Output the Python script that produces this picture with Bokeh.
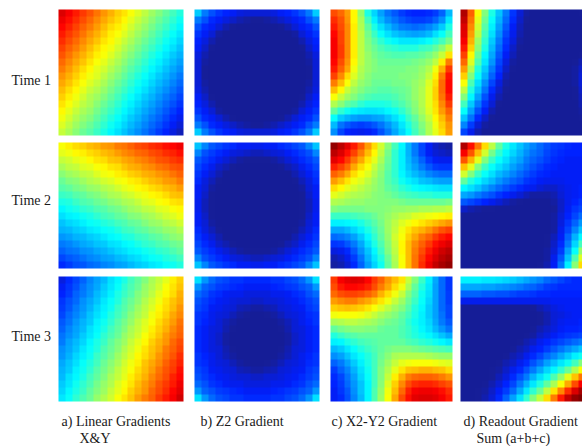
import numpy as np
from bokeh.plotting import figure
from bokeh.models import Range1d, LinearColorMapper
from bokeh.core.properties import value
from bokeh.embed import file_html
from bokeh.resources import INLINE

# Values on an 18x18 grid, top row first (0 = navy, 100 = dark red).
a1 = [[91,88,85,82,79,76,73,70,67,65,62,59,56,53,50,47,44,41],[89,86,83,80,77,74,71,68,66,63,60,57,54,51,48,45,42,39],[87,84,81,78,75,72,69,66,64,61,58,55,52,49,46,43,40,37],[85,82,79,76,73,70,67,64,62,59,56,53,50,47,44,41,38,35],[83,80,77,74,71,68,65,63,60,57,54,51,48,45,42,39,36,33],[81,78,75,72,69,66,63,61,58,55,52,49,46,43,40,37,34,31],[79,76,73,70,67,64,62,59,56,53,50,47,44,41,38,35,32,29],[77,74,71,68,65,62,60,57,54,51,48,45,42,39,36,33,30,27],[75,72,69,66,63,60,58,55,52,49,46,43,40,37,34,31,28,25],[73,70,67,64,61,59,56,53,50,47,44,41,38,35,32,29,26,23],[71,68,65,62,59,57,54,51,48,45,42,39,36,33,30,27,24,21],[69,66,63,60,57,55,52,49,46,43,40,37,34,31,28,25,22,19],[67,64,61,58,55,53,50,47,44,41,38,35,32,29,26,23,20,17],[65,62,59,56,54,51,48,45,42,39,36,33,30,27,24,21,18,15],[63,60,57,54,52,49,46,43,40,37,34,31,28,25,22,19,16,13],[61,58,55,52,50,47,44,41,38,35,32,29,26,23,20,17,14,11],[59,56,53,50,48,45,42,39,36,33,30,27,24,21,18,15,12,9],[57,54,51,48,46,43,40,37,34,31,28,25,22,19,16,13,10,7]]
a2 = [[62,64,66,67,69,70,72,73,75,76,78,80,81,83,84,86,87,89],[60,61,63,64,66,67,69,70,72,74,75,77,78,80,81,83,84,86],[57,58,60,61,63,65,66,68,69,71,72,74,75,77,79,80,82,83],[54,56,57,59,60,62,63,65,66,68,70,71,73,74,76,77,79,80],[51,53,54,56,57,59,61,62,64,65,67,68,70,71,73,74,76,78],[48,50,51,53,55,56,58,59,61,62,64,65,67,69,70,72,73,75],[46,47,49,50,52,53,55,56,58,60,61,63,64,66,67,69,70,72],[43,44,46,47,49,50,52,54,55,57,58,60,61,63,64,66,68,69],[40,41,43,45,46,48,49,51,52,54,55,57,59,60,62,63,65,66],[37,39,40,42,43,45,46,48,49,51,53,54,56,57,59,60,62,63],[34,36,37,39,40,42,44,45,47,48,50,51,53,54,56,58,59,61],[31,33,34,36,38,39,41,42,44,45,47,48,50,52,53,55,56,58],[29,30,32,33,35,36,38,39,41,43,44,46,47,49,50,52,53,55],[26,27,29,30,32,33,35,37,38,40,41,43,44,46,47,49,51,52],[23,24,26,28,29,31,32,34,35,37,38,40,42,43,45,46,48,49],[20,22,23,25,26,28,29,31,33,34,36,37,39,40,42,43,45,47],[17,19,20,22,24,25,27,28,30,31,33,34,36,38,39,41,42,44],[14,16,18,19,21,22,24,25,27,28,30,32,33,35,36,38,39,41]]
a3 = [[10,14,17,20,24,27,30,34,37,40,44,47,50,54,57,60,64,67],[12,15,18,22,25,28,32,35,38,42,45,48,52,55,58,62,65,68],[13,16,20,23,26,30,33,36,40,43,46,50,53,56,60,63,66,70],[15,18,21,25,28,31,35,38,41,45,48,51,55,58,61,65,68,71],[16,19,23,26,29,33,36,39,43,46,49,53,56,59,63,66,69,73],[17,21,24,27,31,34,37,41,44,47,51,54,57,61,64,67,71,74],[19,22,26,29,32,36,39,42,46,49,52,56,59,62,66,69,72,76],[20,24,27,30,34,37,40,44,47,50,54,57,60,64,67,70,74,77],[22,25,28,32,35,38,42,45,48,52,55,58,62,65,68,72,75,78],[23,27,30,33,37,40,43,47,50,53,57,60,63,67,70,73,77,80],[25,28,31,35,38,41,45,48,51,55,58,61,65,68,71,75,78,81],[26,29,33,36,39,43,46,49,53,56,59,63,66,69,73,76,79,83],[28,31,34,38,41,44,48,51,54,58,61,64,68,71,74,78,81,84],[29,32,36,39,42,46,49,52,56,59,62,66,69,72,76,79,82,86],[30,34,37,40,44,47,50,54,57,60,64,67,70,74,77,80,84,87],[32,35,39,42,45,49,52,55,59,62,65,69,72,75,79,82,85,89],[33,37,40,43,47,50,53,57,60,63,67,70,73,77,80,83,87,90],[35,38,42,45,48,52,55,58,62,65,68,72,75,78,82,85,88,92]]
b1 = [[32,23,18,15,13,12,10,9,9,9,9,10,12,13,15,18,23,32],[23,18,14,12,10,8,6,5,4,4,5,6,8,10,12,14,18,23],[18,14,12,9,6,4,3,3,3,3,3,3,4,6,9,12,14,18],[15,12,9,5,3,3,3,3,3,3,3,3,3,3,5,9,12,15],[13,10,6,3,3,3,3,3,3,3,3,3,3,3,3,6,10,13],[12,8,4,3,3,3,3,3,3,3,3,3,3,3,3,4,8,12],[10,6,3,3,3,3,3,3,3,3,3,3,3,3,3,3,6,10],[9,5,3,3,3,3,3,3,3,3,3,3,3,3,3,3,5,9],[9,4,3,3,3,3,3,3,3,3,3,3,3,3,3,3,4,9],[9,4,3,3,3,3,3,3,3,3,3,3,3,3,3,3,4,9],[9,5,3,3,3,3,3,3,3,3,3,3,3,3,3,3,5,9],[10,6,3,3,3,3,3,3,3,3,3,3,3,3,3,3,6,10],[12,8,4,3,3,3,3,3,3,3,3,3,3,3,3,4,8,12],[13,10,6,3,3,3,3,3,3,3,3,3,3,3,3,6,10,13],[15,12,9,5,3,3,3,3,3,3,3,3,3,3,5,9,12,15],[18,14,12,9,6,4,3,3,3,3,3,3,4,6,9,12,14,18],[23,18,14,12,10,8,6,5,4,4,5,6,8,10,12,14,18,23],[32,23,18,15,13,12,10,9,9,9,9,10,12,13,15,18,23,32]]
b2 = [[31,24,19,17,15,14,12,12,11,11,12,12,14,15,17,19,24,31],[24,18,16,14,12,10,9,8,7,7,8,9,10,12,14,16,18,24],[19,16,14,11,9,7,5,4,4,4,4,5,7,9,11,14,16,19],[17,14,11,8,6,4,3,3,3,3,3,3,4,6,8,11,14,17],[15,12,9,6,3,3,3,3,3,3,3,3,3,3,6,9,12,15],[14,10,7,4,3,3,3,3,3,3,3,3,3,3,4,7,10,14],[12,9,5,3,3,3,3,3,3,3,3,3,3,3,3,5,9,12],[12,8,4,3,3,3,3,3,3,3,3,3,3,3,3,4,8,12],[11,7,4,3,3,3,3,3,3,3,3,3,3,3,3,4,7,11],[11,7,4,3,3,3,3,3,3,3,3,3,3,3,3,4,7,11],[12,8,4,3,3,3,3,3,3,3,3,3,3,3,3,4,8,12],[12,9,5,3,3,3,3,3,3,3,3,3,3,3,3,5,9,12],[14,10,7,4,3,3,3,3,3,3,3,3,3,3,4,7,10,14],[15,12,9,6,3,3,3,3,3,3,3,3,3,3,6,9,12,15],[17,14,11,8,6,4,3,3,3,3,3,3,4,6,8,11,14,17],[19,16,14,11,9,7,5,4,4,4,4,5,7,9,11,14,16,19],[24,18,16,14,12,10,9,8,7,7,8,9,10,12,14,16,18,24],[31,24,19,17,15,14,12,12,11,11,12,12,14,15,17,19,24,31]]
b3 = [[34,26,21,18,17,15,15,14,14,14,14,15,15,17,18,21,26,34],[26,20,18,16,15,14,13,12,12,12,12,13,14,15,16,18,20,26],[21,18,15,14,12,11,11,10,10,10,10,11,11,12,14,15,18,21],[18,16,14,12,11,10,9,9,8,8,9,9,10,11,12,14,16,18],[17,15,12,11,10,9,7,6,5,5,6,7,9,10,11,12,15,17],[15,14,11,10,9,7,5,4,3,3,4,5,7,9,10,11,14,15],[15,13,11,9,7,5,3,3,3,3,3,3,5,7,9,11,13,15],[14,12,10,9,6,4,3,3,3,3,3,3,4,6,9,10,12,14],[14,12,10,8,5,3,3,3,3,3,3,3,3,5,8,10,12,14],[14,12,10,8,5,3,3,3,3,3,3,3,3,5,8,10,12,14],[14,12,10,9,6,4,3,3,3,3,3,3,4,6,9,10,12,14],[15,13,11,9,7,5,3,3,3,3,3,3,5,7,9,11,13,15],[15,14,11,10,9,7,5,4,3,3,4,5,7,9,10,11,14,15],[17,15,12,11,10,9,7,6,5,5,6,7,9,10,11,12,15,17],[18,16,14,12,11,10,9,9,8,8,9,9,10,11,12,14,16,18],[21,18,15,14,12,11,11,10,10,10,10,11,11,12,14,15,18,21],[26,20,18,16,15,14,13,12,12,12,12,13,14,15,16,18,20,26],[34,26,21,18,17,15,15,14,14,14,14,15,15,17,18,21,26,34]]
c1 = [[80,77,72,63,52,40,33,27,22,19,16,14,13,13,14,16,20,30],[83,79,73,63,54,44,36,30,25,22,19,17,16,16,17,20,25,35],[85,80,74,64,55,47,40,34,30,26,23,22,21,22,24,27,32,40],[87,81,74,64,56,49,43,38,34,31,29,28,27,28,30,34,38,44],[88,81,74,64,56,50,46,42,39,37,35,35,35,36,38,41,44,49],[88,82,74,64,56,51,48,45,43,42,41,41,41,43,44,47,51,57],[88,82,74,64,56,52,49,47,46,45,45,46,46,47,49,52,57,65],[87,80,73,63,56,52,50,48,48,48,48,48,49,50,52,56,64,75],[85,78,71,61,55,52,50,49,49,49,49,50,50,52,55,61,70,82],[81,74,66,59,54,51,49,49,49,49,50,50,51,53,57,64,75,86],[75,69,62,56,52,50,48,48,48,49,49,50,52,54,59,66,77,87],[69,63,57,53,50,48,47,46,46,47,48,49,52,55,60,67,77,87],[62,57,53,50,47,45,44,44,44,45,47,49,52,55,60,67,76,85],[55,51,47,45,42,40,40,40,41,43,45,48,51,55,60,66,74,82],[47,42,39,36,35,34,34,35,37,39,42,46,50,54,59,65,72,78],[38,32,29,27,26,26,27,28,31,34,38,43,47,52,57,63,69,75],[30,22,19,17,16,17,19,22,26,30,35,40,45,50,55,61,67,73],[25,17,13,12,11,12,14,18,23,28,33,38,44,49,55,60,66,72]]
c2 = [[98,94,90,85,79,72,66,58,51,44,37,29,23,17,12,8,6,5],[94,91,86,81,75,69,63,56,49,42,36,29,23,17,12,9,8,7],[90,87,82,76,71,65,60,54,48,42,36,30,25,20,15,12,11,11],[84,81,77,71,66,62,57,52,47,42,36,31,27,23,19,16,15,15],[78,75,71,66,62,59,55,51,46,42,37,33,30,27,24,22,21,21],[72,69,65,61,59,56,53,50,46,43,39,36,34,31,30,28,27,27],[66,63,60,58,56,54,52,50,47,45,42,40,38,37,36,35,34,34],[60,58,56,55,54,53,51,50,49,47,45,44,43,42,42,41,41,41],[55,54,53,52,52,51,51,50,50,50,49,48,48,48,48,48,48,49],[50,49,49,49,49,50,50,50,51,52,52,53,53,54,54,55,55,56],[43,43,43,44,45,46,48,50,52,54,56,57,59,60,61,62,63,64],[36,36,37,38,40,43,46,49,53,56,59,61,63,65,67,69,71,73],[28,28,30,33,36,40,44,48,53,57,61,65,68,70,73,76,79,81],[21,22,24,27,32,37,42,47,52,58,62,67,71,75,78,82,85,87],[15,16,19,23,28,34,40,45,51,57,63,69,74,78,82,86,89,91],[10,11,14,19,25,31,37,43,50,56,63,69,75,80,85,89,92,94],[6,8,11,16,22,29,35,41,48,55,62,69,76,82,87,91,94,96],[5,6,9,14,20,27,33,39,47,54,62,69,76,83,89,93,96,98]]
c3 = [[82,88,90,91,90,87,82,78,73,69,65,57,50,43,36,28,21,15],[80,85,87,87,86,84,80,75,71,66,61,54,47,41,35,27,21,15],[77,80,81,81,80,78,75,70,66,61,57,50,45,39,34,27,21,16],[72,74,75,75,73,71,68,65,61,57,53,48,43,38,33,27,21,16],[67,68,69,68,67,65,62,59,56,53,50,46,41,37,32,27,21,17],[61,62,62,62,61,59,57,54,52,50,47,44,40,36,32,27,22,17],[54,55,56,56,55,54,53,51,49,48,46,42,39,36,33,28,23,19],[47,49,50,51,51,50,50,48,47,47,45,43,40,37,34,30,26,22],[41,43,45,46,47,47,47,47,47,47,45,43,41,39,37,34,31,28],[36,37,40,42,44,45,46,47,47,47,47,45,44,42,41,39,37,35],[30,32,35,38,41,43,45,47,49,50,50,50,49,48,47,46,45,44],[25,27,31,35,38,41,44,48,51,54,55,55,55,55,54,53,52,52],[20,23,27,32,36,40,44,49,53,57,60,61,62,62,62,61,60,59],[16,20,24,29,34,39,44,50,55,60,65,68,69,70,70,69,68,66],[14,17,22,27,33,38,44,50,57,64,70,75,77,78,78,77,75,73],[13,16,21,26,31,37,44,51,59,67,74,80,83,84,84,83,81,79],[12,15,19,25,31,37,45,52,61,69,77,84,88,89,89,88,86,83],[12,14,18,24,30,37,45,53,62,71,80,86,90,91,91,90,88,85]]
d1 = [[95,78,62,50,40,31,23,15,9,5,3,3,3,3,3,3,3,4],[93,76,60,48,38,29,21,14,8,4,3,3,3,3,3,3,3,3],[91,74,58,46,36,27,19,12,7,3,3,3,3,3,3,3,3,3],[90,72,56,44,34,25,17,11,6,3,3,3,3,3,3,3,3,3],[88,70,53,42,32,23,15,10,5,3,3,3,3,3,3,3,3,3],[85,67,51,40,30,21,14,8,4,3,3,3,3,3,3,3,3,3],[81,63,48,37,28,19,12,7,3,3,3,3,3,3,3,3,3,4],[77,59,45,35,26,17,10,5,3,3,3,3,3,3,3,3,4,6],[72,55,41,32,23,15,8,4,3,3,3,3,3,3,3,3,5,8],[67,50,38,29,20,13,6,3,3,3,3,3,3,3,3,3,5,9],[62,45,34,25,17,10,5,3,3,3,3,3,3,3,3,3,5,9],[56,41,31,22,14,8,4,3,3,3,3,3,3,3,3,3,4,8],[50,37,27,18,11,6,3,3,3,3,3,3,3,3,3,3,4,7],[44,32,23,15,9,4,3,3,3,3,3,3,3,3,3,3,3,6],[38,27,18,12,6,3,3,3,3,3,3,3,3,3,3,3,3,5],[31,22,14,8,4,3,3,3,3,3,3,3,3,3,3,3,3,4],[24,16,9,5,3,3,3,3,3,3,3,3,3,3,3,3,3,3],[17,11,6,3,3,3,3,3,3,3,3,3,3,3,3,3,3,3]]
d2 = [[95,86,76,66,56,47,40,35,31,27,24,21,18,16,15,14,13,13],[88,79,69,58,49,42,37,33,29,25,22,20,17,15,14,13,13,13],[79,70,60,50,43,38,34,30,27,23,20,18,16,14,13,12,12,12],[68,60,50,43,38,34,31,27,24,21,18,16,14,13,12,12,12,12],[58,50,43,38,34,30,27,24,21,18,16,14,13,12,12,12,12,12],[47,41,37,33,30,26,23,20,18,15,14,12,11,11,11,12,12,12],[37,34,31,27,24,21,18,16,14,12,11,9,8,8,10,11,12,13],[28,26,23,20,18,15,13,11,9,7,5,5,5,6,9,11,12,13],[19,17,15,13,11,9,7,5,4,3,3,3,3,5,8,11,13,15],[8,6,5,4,4,3,3,3,3,3,3,3,3,4,8,12,15,17],[3,3,3,3,3,3,3,3,3,3,3,3,3,5,9,13,17,21],[3,3,3,3,3,3,3,3,3,3,3,3,3,5,10,15,20,26],[3,3,3,3,3,3,3,3,3,3,3,3,3,5,11,17,24,31],[3,3,3,3,3,3,3,3,3,3,3,3,4,7,12,20,29,37],[3,3,3,3,3,3,3,3,3,3,3,3,4,8,14,23,33,44],[3,3,3,3,3,3,3,3,3,3,3,3,5,9,16,27,38,52],[3,3,3,3,3,3,3,3,3,3,3,3,5,11,19,31,45,59],[3,3,3,3,3,3,3,3,3,3,3,4,6,12,22,36,51,66]]
d3 = [[36,36,36,35,35,34,33,32,30,28,26,24,21,19,17,15,14,14],[28,28,28,27,27,26,25,24,23,21,20,18,16,15,14,14,14,14],[20,20,20,19,19,18,18,17,16,16,15,14,14,13,13,13,13,13],[11,11,11,11,11,11,11,11,11,11,11,11,11,12,12,12,12,12],[3,3,3,3,3,3,3,3,3,3,4,6,8,10,11,12,12,12],[3,3,3,3,3,3,3,3,3,3,3,4,6,9,10,11,12,12],[3,3,3,3,3,3,3,3,3,3,3,4,6,9,11,12,12,13],[3,3,3,3,3,3,3,3,3,3,4,6,8,10,12,13,13,14],[3,3,3,3,3,3,3,3,3,4,5,8,10,12,14,15,16,17],[3,3,3,3,3,3,3,3,4,6,8,11,13,15,17,19,21,23],[3,3,3,3,3,3,3,4,6,8,11,13,16,19,22,25,28,31],[3,3,3,3,3,3,4,6,8,11,14,17,21,24,28,32,36,39],[3,3,3,3,3,4,6,8,11,14,18,22,27,31,35,39,44,50],[3,3,3,3,4,5,8,11,14,18,23,28,33,37,42,48,55,62],[3,3,3,3,4,7,10,14,18,23,29,34,39,45,52,60,68,76],[3,3,3,4,6,9,13,17,23,29,35,41,47,54,62,71,80,88],[3,3,4,5,8,12,16,21,28,35,42,48,56,65,74,83,91,96],[3,3,4,6,9,14,20,27,34,42,50,57,66,75,85,93,98,100]]

row_labels = ["Time 1", "Time 2", "Time 3"]
captions = ["a) Linear Gradients", "b) Z2 Gradient", "c)  X2-Y2 Gradient", "d) Readout Gradient"]
sub_captions = ["X&Y", "Sum (a+b+c)"]

panels = [[a1, b1, c1, d1], [a2, b2, c2, d2], [a3, b3, c3, d3]]

# Layout, in picture pixels
col_left = [58, 194, 330, 460]
col_width = [125, 125, 122, 125]
row_top = [9, 142, 276]
row_height = [126, 126, 125]
row_label_y = [80, 200, 336]
caption_x = [61, 200, 331, 463]
sub_caption_x = [79, 476]
W, H = 582, 446

stops = [(0, (20, 28, 150)), (4, (22, 30, 152)), (12.5, (0, 30, 255)), (37.5, (0, 255, 255)),
         (62.5, (255, 255, 0)), (87.5, (255, 0, 0)), (100, (128, 0, 0))]
pos = [s[0] for s in stops]
palette = []
for t in np.linspace(0, 100, 256):
    rgb = [int(round(np.interp(t, pos, [s[1][i] for s in stops]))) for i in range(3)]
    palette.append("#%02x%02x%02x" % tuple(rgb))
mapper = LinearColorMapper(palette=palette, low=0, high=100)

p = figure(width=W, height=H, output_backend="svg", toolbar_location=None,
           x_axis_type=None, y_axis_type=None, min_border=0,
           x_range=Range1d(0, W), y_range=Range1d(0, H))
p.grid.visible = False
p.outline_line_color = None
p.background_fill_color = "white"
p.border_fill_color = "white"

def yy(y):
    return H - y

for r, row in enumerate(panels):
    for c, grid in enumerate(row):
        arr = np.flipud(np.array(grid, dtype=float))
        p.image(image=[arr], x=col_left[c], y=yy(row_top[r] + row_height[r]),
                dw=col_width[c], dh=row_height[r], color_mapper=mapper)

font = value("Liberation Serif")
p.text(x=[11] * 3, y=[yy(v) for v in row_label_y], text=row_labels, text_font=font,
       text_font_size="14px", text_baseline="middle", text_color="#1a1a1a")
p.text(x=caption_x, y=[yy(421)] * 4, text=captions, text_font=font,
       text_font_size="14px", text_baseline="middle", text_color="#1a1a1a")
p.text(x=sub_caption_x, y=[yy(438)] * 2, text=sub_captions, text_font=font,
       text_font_size="14px", text_baseline="middle", text_color="#1a1a1a")

open("out.html", "w").write(file_html(p, INLINE))
